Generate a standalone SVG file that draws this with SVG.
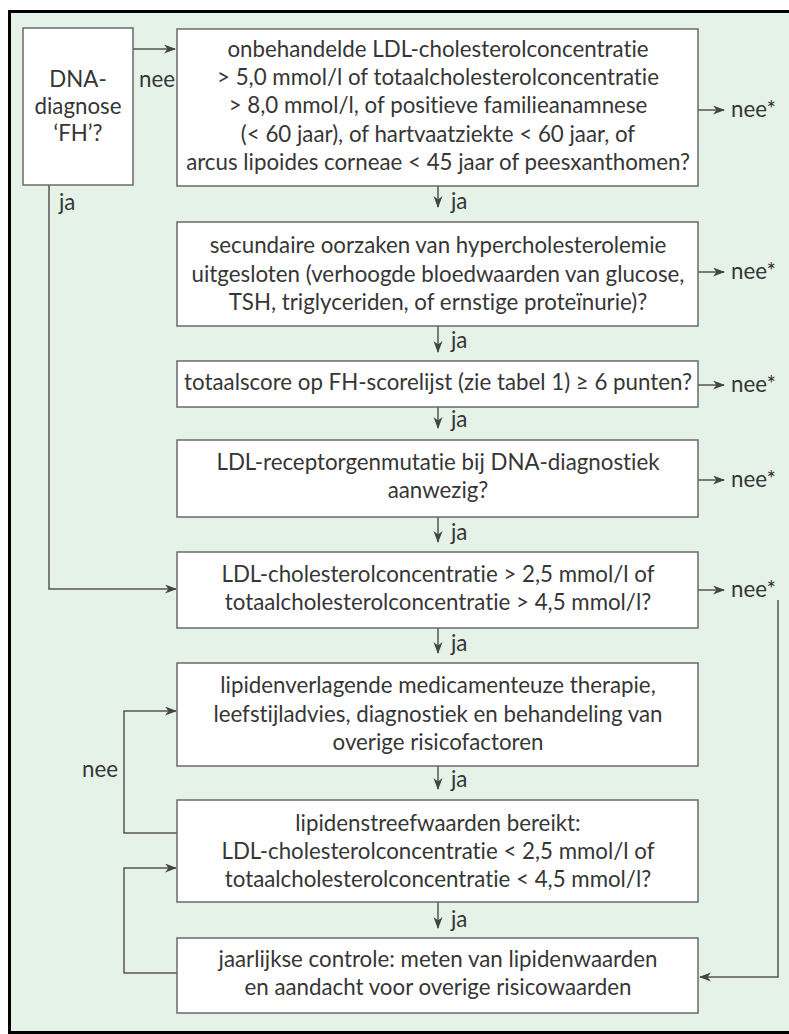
<svg xmlns="http://www.w3.org/2000/svg" width="789" height="1034" viewBox="0 0 789 1034">
<defs>
<style>
.bx{fill:#fff;stroke:#6a6a6a;stroke-width:1.5}
.t{font-family:Lato,"Open Sans",sans-serif;font-size:22.3px;fill:#363636;text-anchor:middle;font-variant-ligatures:none}
.l{font-family:Lato,"Open Sans",sans-serif;font-size:22.3px;fill:#363636;font-variant-ligatures:none}
.c{fill:none;stroke:#555;stroke-width:1.5}
</style>
<marker id="ah" markerWidth="12" markerHeight="10" refX="11" refY="4.5" orient="auto" markerUnits="userSpaceOnUse">
<path d="M0,0 L12,4.5 L0,9 L3.5,4.5 z" fill="#444"/>
</marker>
</defs>
<rect x="0" y="0" width="789" height="1034" fill="#fff"/>
<rect x="9.5" y="11.5" width="800" height="1021" fill="#e4f2e8" stroke="#000" stroke-width="3"/>

<g id="connectors">
<path class="c" d="M133,49 H175" marker-end="url(#ah)"/>
<path class="c" d="M49,185 V589 H176" marker-end="url(#ah)"/>
<path class="c" d="M438,186 V207" marker-end="url(#ah)"/>
<path class="c" d="M438,326 V352" marker-end="url(#ah)"/>
<path class="c" d="M438,407 V428" marker-end="url(#ah)"/>
<path class="c" d="M438,517 V542" marker-end="url(#ah)"/>
<path class="c" d="M438,628 V653" marker-end="url(#ah)"/>
<path class="c" d="M438,766 V789" marker-end="url(#ah)"/>
<path class="c" d="M438,902 V928" marker-end="url(#ah)"/>
<path class="c" d="M698,110 H724" marker-end="url(#ah)"/>
<path class="c" d="M698,272 H724" marker-end="url(#ah)"/>
<path class="c" d="M698,385 H724" marker-end="url(#ah)"/>
<path class="c" d="M698,480 H724" marker-end="url(#ah)"/>
<path class="c" d="M698,590 H724" marker-end="url(#ah)"/>
<path class="c" d="M778,600 V977 H700" marker-end="url(#ah)"/>
<path class="c" d="M177,833 H124 V711 H176" marker-end="url(#ah)"/>
<path class="c" d="M177,973 H124 V868 H176" marker-end="url(#ah)"/>
<text class="l" x="139" y="87">nee</text>
<text class="l" x="59" y="210">ja</text>
<text class="l" x="451" y="209">ja</text>
<text class="l" x="451" y="348">ja</text>
<text class="l" x="451" y="427">ja</text>
<text class="l" x="451" y="540">ja</text>
<text class="l" x="451" y="651">ja</text>
<text class="l" x="451" y="787">ja</text>
<text class="l" x="451" y="927">ja</text>
<text class="l" x="731" y="117">nee*</text>
<text class="l" x="731" y="279">nee*</text>
<text class="l" x="731" y="392">nee*</text>
<text class="l" x="731" y="487">nee*</text>
<text class="l" x="731" y="597">nee*</text>
<text class="l" x="82" y="777">nee</text>
</g>

<g id="dna">
<rect class="bx" x="23" y="28" width="110" height="157"/>
<text class="t" x="78" y="87">DNA-</text>
<text class="t" x="78" y="114">diagnose</text>
<text class="t" x="78" y="141">‘FH’?</text>
</g>

<g id="n1">
<rect class="bx" x="177" y="29" width="521" height="157"/>
<text class="t" x="438" y="57">onbehandelde LDL-cholesterolconcentratie</text>
<text class="t" x="438" y="85">&gt; 5,0 mmol/l of totaalcholesterolconcentratie</text>
<text class="t" x="438" y="113">&gt; 8,0 mmol/l, of positieve familieanamnese</text>
<text class="t" x="438" y="142">(&lt; 60 jaar), of hartvaatziekte &lt; 60 jaar, of</text>
<text class="t" x="438" y="170">arcus lipoides corneae &lt; 45 jaar of peesxanthomen?</text>
</g>

<g id="n2">
<rect class="bx" x="177" y="222" width="521" height="104"/>
<text class="t" x="438" y="253">secundaire oorzaken van hypercholesterolemie</text>
<text class="t" x="438" y="282">uitgesloten (verhoogde bloedwaarden van glucose,</text>
<text class="t" x="438" y="310">TSH, triglyceriden, of ernstige proteïnurie)?</text>
</g>

<g id="n3">
<rect class="bx" x="177" y="361" width="521" height="46"/>
<text class="t" x="438" y="390">totaalscore op FH-scorelijst (zie tabel 1) ≥ 6 punten?</text>
</g>

<g id="n4">
<rect class="bx" x="177" y="440" width="521" height="77"/>
<text class="t" x="438" y="470">LDL-receptorgenmutatie bij DNA-diagnostiek</text>
<text class="t" x="438" y="498">aanwezig?</text>
</g>

<g id="n5">
<rect class="bx" x="177" y="552" width="521" height="76"/>
<text class="t" x="438" y="582">LDL-cholesterolconcentratie &gt; 2,5 mmol/l of</text>
<text class="t" x="438" y="610">totaalcholesterolconcentratie &gt; 4,5 mmol/l?</text>
</g>

<g id="n6">
<rect class="bx" x="177" y="663" width="521" height="103"/>
<text class="t" x="438" y="693">lipidenverlagende medicamenteuze therapie,</text>
<text class="t" x="438" y="722">leefstijladvies, diagnostiek en behandeling van</text>
<text class="t" x="438" y="750">overige risicofactoren</text>
</g>

<g id="n7">
<rect class="bx" x="177" y="800" width="521" height="102"/>
<text class="t" x="438" y="831">lipidenstreefwaarden bereikt:</text>
<text class="t" x="438" y="859">LDL-cholesterolconcentratie &lt; 2,5 mmol/l of</text>
<text class="t" x="438" y="887">totaalcholesterolconcentratie &lt; 4,5 mmol/l?</text>
</g>

<g id="n8">
<rect class="bx" x="177" y="938" width="521" height="75"/>
<text class="t" x="438" y="967">jaarlijkse controle: meten van lipidenwaarden</text>
<text class="t" x="438" y="995">en aandacht voor overige risicowaarden</text>
</g>
</svg>
